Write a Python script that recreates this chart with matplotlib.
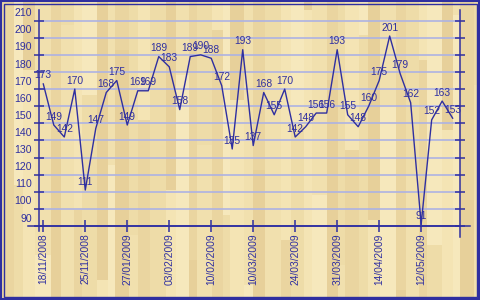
import numpy as np
import matplotlib
matplotlib.use('Agg')
import matplotlib.pyplot as plt
from matplotlib.patches import Rectangle
from matplotlib.transforms import ScaledTranslation

# data
values = [173, 149, 142, 170, 111, 147, 168, 175, 149, 169,
          169, 189, 183, 158, 189, 190, 188, 172, 135, 193,
          137, 168, 155, 170, 142, 148, 156, 156, 193, 155,
          148, 160, 175, 201, 179, 162, 91, 152, 163, 153]
tick_labels = ['18/11/2008', '25/11/2008', '27/01/2009', '03/02/2009',
               '10/02/2009', '10/03/2009', '24/03/2009', '31/03/2009',
               '14/04/2009', '12/05/2009']
y_ticks = list(range(90, 211, 10))

blue = '#2F2FA0'
grid_blue = '#ADB2E3'
plt.rcParams['font.family'] = ['Liberation Sans', 'DejaVu Sans']

fig = plt.figure(figsize=(4.8, 3.0), dpi=100)

# wooden plank background (decoration only)
shades = ['#F4E4B4', '#EEDCA8', '#EAD5A0', '#F1E0AE', '#E7D09A', '#F6E8BC']
widths = [14, 9, 12, 16, 10, 13, 8, 15, 11, 7]
bg = np.zeros((60, 480, 3))
x0, k = 0, 0
while x0 < 480:
    w = widths[k % len(widths)]
    brk = (k * 37) % 60
    c1 = matplotlib.colors.to_rgb(shades[(k * 5) % len(shades)])
    c2 = matplotlib.colors.to_rgb(shades[(k * 5 + 2) % len(shades)])
    bg[:brk, x0:x0 + w] = c1
    bg[brk:, x0:x0 + w] = c2
    x0 += w
    k += 1
bax = fig.add_axes([0, 0, 1, 1], zorder=0)
bax.imshow(bg, aspect='auto', interpolation='nearest')
bax.axis('off')

# double frame
for inset, lw in [(1.0, 1.5), (3.5, 1.0)]:
    fig.patches.append(Rectangle((inset / 480, inset / 300),
                                 1 - 2 * inset / 480, 1 - 2 * inset / 300,
                                 transform=fig.transFigure, fill=False,
                                 edgecolor=blue, lw=lw, zorder=5))

ax = fig.add_axes([39.3 / 480, 74 / 300, 420.7 / 480, 216 / 300], zorder=1)
ax.patch.set_alpha(0)
x = np.arange(len(values))
ax.plot(x, values, color=blue, lw=1.0, zorder=3)
for xi, v in zip(x, values):
    ax.annotate(str(v), (xi, v), xytext=(0, 2.5), textcoords='offset points',
                ha='center', va='bottom', fontsize=7.4, color=blue, zorder=4)

ax.set_xlim(-0.38, 39.7)
ax.set_ylim(90, 216.2)
ax.set_yticks(y_ticks)
ax.set_xticks(x[::4])
ax.set_xticklabels(tick_labels, rotation=90, fontsize=7.4, color=blue)
ax.yaxis.grid(True, color=grid_blue, lw=1.2)
ax.set_axisbelow(True)
ax.tick_params(axis='y', which='major', direction='inout', length=6.5,
               width=1.1, colors=blue, labelsize=7.6, right=True, pad=2)
ax.tick_params(axis='x', which='major', direction='inout', length=8.6,
               width=1.1, colors=blue, pad=1)
for lab in ax.get_yticklabels():
    lab.set_transform(lab.get_transform() +
                      ScaledTranslation(0, 8.4 / 100, fig.dpi_scale_trans))

ax.spines['top'].set_visible(False)
for s in ['left', 'right', 'bottom']:
    ax.spines[s].set_color(blue)
    ax.spines[s].set_linewidth(1.1)

# axis line extensions past the corners
ax.plot([-0.027, 1.024], [0, 0], transform=ax.transAxes, color=blue,
        lw=1.1, clip_on=False)
ax.plot([0, 0], [0, -0.023], transform=ax.transAxes, color=blue,
        lw=1.1, clip_on=False)
ax.plot([1, 1], [0, -0.049], transform=ax.transAxes, color=blue,
        lw=1.1, clip_on=False)

fig.savefig('out.png', dpi=100)
